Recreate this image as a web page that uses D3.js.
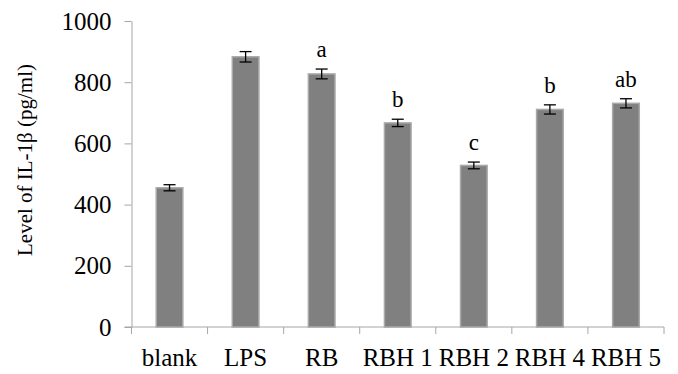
<!DOCTYPE html>
<html>
<head>
<meta charset="utf-8">
<script src="https://cdn.jsdelivr.net/npm/d3@7"></script>
<style>
  body { margin: 0; background: #fff; }
</style>
</head>
<body>
<div id="chart"></div>
<script>
var categories = ['blank', 'LPS', 'RB', 'RBH 1', 'RBH 2', 'RBH 4', 'RBH 5'];
var values = [455, 883, 827, 667, 528, 711, 731];
var errors = [10, 17, 16, 12, 11, 15, 15];
var letters = ['', '', 'a', 'b', 'c', 'b', 'ab'];
var yTicks = [0, 200, 400, 600, 800, 1000];

var width = 678, height = 374;
var margin = {left: 131.5, right: 14, top: 21, bottom: 47};
var serif = '"Liberation Serif", "Times New Roman", serif';

var svg = d3.select('#chart').append('svg')
    .attr('width', width)
    .attr('height', height)
    .style('font-family', serif);

var x = d3.scaleBand()
    .domain(categories)
    .range([margin.left, width - margin.right])
    .paddingInner(0.65)
    .paddingOuter(0.325);

var y = d3.scaleLinear()
    .domain([0, 1000])
    .range([height - margin.bottom, margin.top]);

var axisColor = '#a6a6a6';

// y axis
var $y = svg.append('g')
    .attr('transform', 'translate(' + margin.left + ',0)')
    .call(d3.axisLeft(y).tickValues(yTicks).tickFormat(d3.format('d'))
        .tickSize(7).tickPadding(13).tickSizeOuter(0));
$y.attr('font-family', null).attr('font-size', null);
$y.select('.domain').attr('stroke', axisColor);
$y.selectAll('.tick line').attr('stroke', axisColor);
$y.selectAll('.tick text')
    .style('font-family', serif)
    .style('font-size', '25px')
    .attr('fill', '#000');

// x axis, ticks between categories
var bounds = categories.map(function(c) { return x(c) - x.step() * x.paddingInner() / 2; });
bounds.push(width - margin.right);

var $x = svg.append('g')
    .attr('transform', 'translate(0,' + y(0) + ')');
$x.append('line')
    .attr('x1', margin.left - 7).attr('x2', width - margin.right)
    .attr('stroke', axisColor);
$x.selectAll('.sep').data(bounds).enter().append('line')
    .attr('class', 'sep')
    .attr('x1', function(d) { return d; }).attr('x2', function(d) { return d; })
    .attr('y1', 0).attr('y2', 7)
    .attr('stroke', axisColor);
$x.selectAll('.lbl').data(categories).enter().append('text')
    .attr('class', 'lbl')
    .attr('x', function(d) { return x(d) + x.bandwidth() / 2; })
    .attr('y', 39)
    .attr('text-anchor', 'middle')
    .style('font-family', serif)
    .style('font-size', '25px')
    .text(function(d) { return d; });

// bars
svg.selectAll('.bar').data(values).enter().append('rect')
    .attr('class', 'bar')
    .attr('x', function(d, i) { return x(categories[i]); })
    .attr('y', function(d) { return y(d); })
    .attr('width', x.bandwidth())
    .attr('height', function(d) { return y(0) - y(d); })
    .attr('fill', '#808080')
    .attr('stroke', '#a9a9a9')
    .attr('stroke-width', 1.5);

// error bars
var cap = 6;
var eb = svg.selectAll('.err').data(values).enter().append('g')
    .attr('class', 'err')
    .attr('stroke', '#000')
    .attr('stroke-width', 1.3);
eb.append('line')
    .attr('x1', function(d, i) { return x(categories[i]) + x.bandwidth() / 2; })
    .attr('x2', function(d, i) { return x(categories[i]) + x.bandwidth() / 2; })
    .attr('y1', function(d, i) { return y(d + errors[i]); })
    .attr('y2', function(d, i) { return y(d - errors[i]); });
eb.append('line')
    .attr('x1', function(d, i) { return x(categories[i]) + x.bandwidth() / 2 - cap; })
    .attr('x2', function(d, i) { return x(categories[i]) + x.bandwidth() / 2 + cap; })
    .attr('y1', function(d, i) { return y(d + errors[i]); })
    .attr('y2', function(d, i) { return y(d + errors[i]); });
eb.append('line')
    .attr('x1', function(d, i) { return x(categories[i]) + x.bandwidth() / 2 - cap; })
    .attr('x2', function(d, i) { return x(categories[i]) + x.bandwidth() / 2 + cap; })
    .attr('y1', function(d, i) { return y(d - errors[i]); })
    .attr('y2', function(d, i) { return y(d - errors[i]); });

// significance letters
svg.selectAll('.sig').data(letters).enter().append('text')
    .attr('class', 'sig')
    .attr('x', function(d, i) { return x(categories[i]) + x.bandwidth() / 2; })
    .attr('y', function(d, i) { return y(values[i] + errors[i]) - 12; })
    .attr('text-anchor', 'middle')
    .style('font-size', '23px')
    .text(function(d) { return d; });

// y title
svg.append('text')
    .attr('transform', 'translate(32,' + 160 + ') rotate(-90)')
    .attr('text-anchor', 'middle')
    .style('font-size', '21px')
    .text('Level of IL-1β (pg/ml)');
</script>
</body>
</html>
